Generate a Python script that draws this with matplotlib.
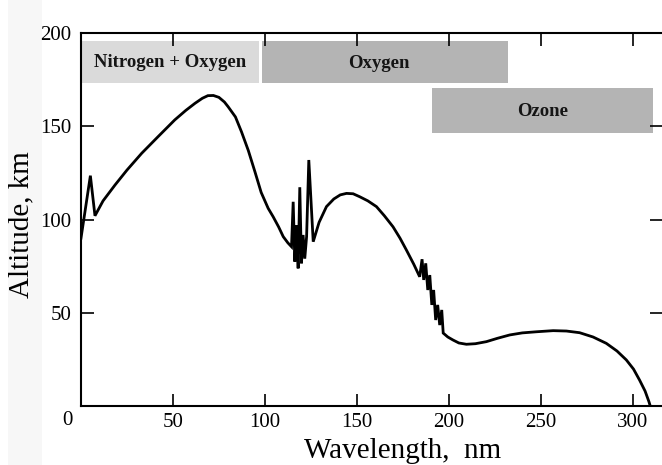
import matplotlib
matplotlib.use("Agg")
import matplotlib.pyplot as plt
from matplotlib.patches import Rectangle

# ---- data ----
wavelength = [0.0, 5.1, 7.6, 12.0, 18.5, 25.0, 33.0, 42.0, 51.0, 57.0, 62.0, 66.0, 69.0, 72.0, 75.0,
              78.0, 80.0, 84.0, 87.3, 91.0, 94.6, 98.0, 101.8, 104.5, 107.5, 110.0, 112.5, 114.5,
              115.4, 116.3, 117.2, 118.1, 119.0, 119.9, 120.8, 121.7, 122.7, 123.9, 126.3,
              129.5, 133.5, 137.5, 141.0, 144.4, 148.0, 151.6, 156.0, 160.7, 165.0, 169.7, 173.5,
              177.0, 181.0, 184.2,
              185.5, 186.4, 187.5, 188.6, 189.7, 190.8, 191.8, 192.9, 194.0, 195.1, 196.2, 197.0,
              199.5, 202.3, 205.5, 209.6, 214.5, 220.5, 226.5, 233.2, 240.0, 247.7, 256.8, 264.0,
              271.2, 278.5, 285.7, 291.5, 296.6, 300.5, 303.8, 306.8, 308.9, 309.6]
altitude = [90.0, 123.5, 102.0, 110.0, 118.5, 126.5, 135.5, 144.5, 153.4, 158.5, 162.3, 165.0, 166.4, 166.5, 165.5,
            163.0, 160.5, 155.0, 147.0, 137.0, 125.6, 114.5, 106.0, 101.5, 96.0, 90.8, 87.5, 85.4,
            109.5, 77.4, 97.0, 73.8, 117.3, 76.5, 91.7, 79.0, 90.8, 131.9, 88.1,
            98.5, 106.9, 111.0, 113.2, 114.0, 113.8, 112.2, 110.0, 106.9, 102.0, 96.1, 90.0,
            83.6, 76.0, 69.3,
            78.7, 67.6, 76.5, 62.2, 70.2, 54.2, 62.2, 46.1, 54.2, 43.4, 51.5, 39.1,
            37.0, 35.4, 33.8, 33.1, 33.4, 34.5, 36.3, 38.1, 39.2, 39.8, 40.4, 40.2,
            39.3, 37.0, 33.6, 29.5, 24.7, 19.8, 13.9, 8.0, 2.3, 0.0]

band_labels = ["Nitrogen + Oxygen", "Oxygen", "Ozone"]
band_x0 = [0.5, 98.4, 190.8]
band_x1 = [96.7, 232.0, 310.9]
band_y0 = [173.2, 173.0, 146.4]
band_y1 = [195.7, 195.7, 170.5]
band_colors = ["#dadada", "#b4b4b4", "#b4b4b4"]

x_ticks = [0, 50, 100, 150, 200, 250, 300]
y_ticks = [0, 50, 100, 150, 200]

# ---- figure ----
plt.rcParams['font.family'] = ['Liberation Serif', 'DejaVu Serif']
fig = plt.figure(figsize=(6.62, 4.65), dpi=100)
# faint scanned page margin on the left
fig.patches.append(Rectangle((8 / 662, 0), 34 / 662, 1, transform=fig.transFigure,
                             facecolor="#f7f7f7", edgecolor="none", zorder=-1))
ax = fig.add_axes([81 / 662, 59 / 465, 581 / 662, 373 / 465])
ax.set_xlim(0, 316)
ax.set_ylim(0, 200)
ax.patch.set_alpha(0)

for lab, x0, x1, y0, y1, c in zip(band_labels, band_x0, band_x1, band_y0, band_y1, band_colors):
    ax.add_patch(Rectangle((x0, y0), x1 - x0, y1 - y0, facecolor=c, edgecolor="none", zorder=1))
    ax.text((x0 + x1) / 2 - (3 if lab == "Oxygen" else 0), (y0 + y1) / 2 - 0.5, lab,
            ha="center", va="center", fontsize=13.5, fontweight="bold", color="#151515", zorder=2)

ax.plot(wavelength, altitude, color="black", lw=2.0, solid_joinstyle="miter", zorder=3)

for s in ["left", "top", "bottom"]:
    ax.spines[s].set_linewidth(1.5)
ax.spines["right"].set_visible(False)

ax.set_xticks(x_ticks)
ax.set_yticks(y_ticks)
ax.set_xticklabels([""] + [str(v) for v in x_ticks[1:]])
ax.set_yticklabels([""] + [str(v) for v in y_ticks[1:]])
ax.tick_params(direction="in", length=9, width=1.2, labelsize=15, top=True, right=True)
ax.tick_params(axis="x", pad=5)
ax.tick_params(axis="y", pad=7)

fig.text(67 / 662, 1 - 420 / 465, "0", ha="center", va="center", fontsize=15)

ax.set_xlabel("Wavelength,  nm", fontsize=21)
ax.xaxis.set_label_coords(0.554, -0.085, transform=ax.transAxes)
ax.set_ylabel("Altitude, km", fontsize=21)
ax.yaxis.set_label_coords(-0.08, 0.485, transform=ax.transAxes)

fig.savefig("out.png", dpi=100)
